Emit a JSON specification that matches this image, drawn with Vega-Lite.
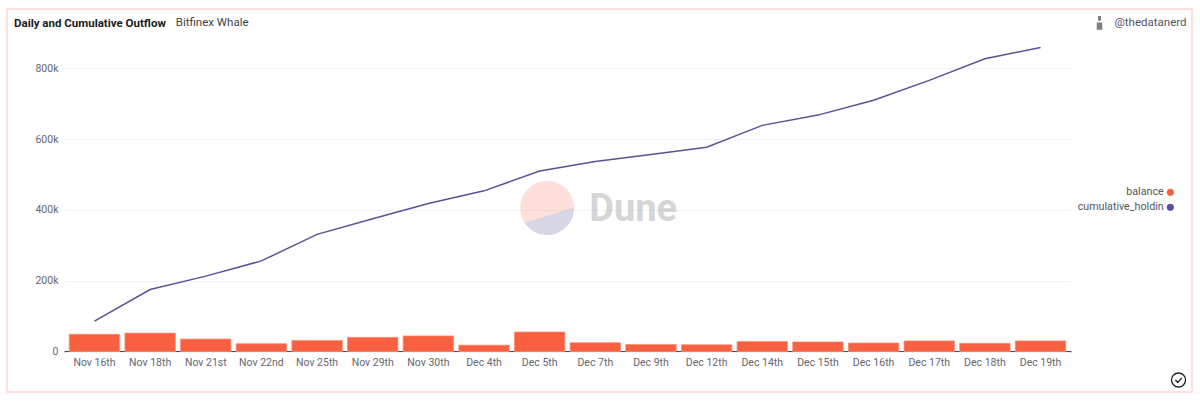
{
"$schema":"https://vega.github.io/schema/vega-lite/v6.json",
"width":1185,"height":383,
"autosize":"none",
"padding":{"left":7,"top":9,"right":8,"bottom":10},
"background":"white",
"view":{"stroke":"#fdd6d0","strokeWidth":1.5,"fill":"white"},
"config":{"font":"Roboto",
 "axisX":{"title":null,"offset":-40.5,"bandPosition":0.5,"labelAngle":0,"labelOverlap":false,"labelFontSize":10.5,"labelColor":"#666670","labelFont":"Roboto","labelPadding":6,"ticks":false,"domain":true,"domainColor":"#4a4a4a","domainWidth":2,"grid":false,"zindex":1},
 "axisY":{"title":null,"offset":-57,"labelFontSize":10.5,"labelColor":"#666670","labelFont":"Roboto","labelPadding":1013,"domain":false,"grid":false,"ticks":true,"tickSize":-1007,"tickColor":"#f3f3f3","tickWidth":1}
},
"title":{"text":"Daily and Cumulative Outflow","anchor":"start","frame":"group","fontSize":11.5,"fontWeight":"bold","font":"Roboto","color":"#1a1a1a","dx":7,"dy":20,"offset":0},
"datasets":{
"main":[
{"date":"Nov 16th","balance":48600,"cumulative_holdin":86000},
{"date":"Nov 18th","balance":52000,"cumulative_holdin":175000},
{"date":"Nov 21st","balance":35000,"cumulative_holdin":213000},
{"date":"Nov 22nd","balance":22000,"cumulative_holdin":256000},
{"date":"Nov 25th","balance":31000,"cumulative_holdin":331000},
{"date":"Nov 29th","balance":40000,"cumulative_holdin":375000},
{"date":"Nov 30th","balance":44000,"cumulative_holdin":418000},
{"date":"Dec 4th","balance":18000,"cumulative_holdin":454000},
{"date":"Dec 5th","balance":55000,"cumulative_holdin":510000},
{"date":"Dec 7th","balance":25000,"cumulative_holdin":537000},
{"date":"Dec 9th","balance":20000,"cumulative_holdin":557000},
{"date":"Dec 12th","balance":19000,"cumulative_holdin":577000},
{"date":"Dec 14th","balance":28000,"cumulative_holdin":639000},
{"date":"Dec 15th","balance":27000,"cumulative_holdin":668000},
{"date":"Dec 16th","balance":24000,"cumulative_holdin":710000},
{"date":"Dec 17th","balance":30000,"cumulative_holdin":766000},
{"date":"Dec 18th","balance":23000,"cumulative_holdin":827000},
{"date":"Dec 19th","balance":30000,"cumulative_holdin":859000}
]},
"data":{"name":"main"},
"layer":[
{"data":{"values":[{"k":"logo"}]},"mark":{"type":"point","filled":true,"size":2916,"xOffset":7.5,"opacity":0.2,"shape":"M-0.83,0.55 A1,1 0 1 1 1,-0.03 Z","color":"#f8603f"},
 "encoding":{"x":{"datum":"Dec 5th","type":"nominal"},"y":{"datum":405000,"type":"quantitative"}}},
{"data":{"values":[{"k":"logo"}]},"mark":{"type":"point","filled":true,"size":2916,"xOffset":7.5,"opacity":0.25,"shape":"M-0.83,0.55 A1,1 0 0 0 1,-0.03 Z","color":"#5a5a9e"},
 "encoding":{"x":{"datum":"Dec 5th","type":"nominal"},"y":{"datum":405000,"type":"quantitative"}}},
{"data":{"values":[{"label":"Dune"}]},"mark":{"type":"text","align":"left","baseline":"middle","fontSize":38,"fontWeight":"bold","font":"Roboto","color":"#8c8c8c","opacity":0.35,"dx":-6,"dy":2},
 "encoding":{"x":{"datum":"Dec 7th","type":"nominal"},"y":{"datum":405000,"type":"quantitative"},"text":{"field":"label"}}},
{"mark":{"type":"bar","color":"#f8603f","stroke":"#fb8f78","strokeWidth":1,"strokeOpacity":0.8},
 "encoding":{
  "x":{"field":"date","type":"nominal","sort":null,
   "scale":{"domain":["Nov 16th","Nov 18th","Nov 21st","Nov 22nd","Nov 25th","Nov 29th","Nov 30th","Dec 4th","Dec 5th","Dec 7th","Dec 9th","Dec 12th","Dec 14th","Dec 15th","Dec 16th","Dec 17th","Dec 18th","Dec 19th"],"range":[57,1064],"paddingInner":0.094,"paddingOuter":0.0945}},
  "y":{"field":"balance","type":"quantitative",
   "scale":{"domain":[0,900000],"range":[342.5,24],"nice":false,"zero":true},
   "axis":{"values":[0,200000,400000,600000,800000],"labelExpr":"datum.value==0?'0':(datum.value/1000)+'k'"}},
  "color":{"datum":"balance","type":"nominal",
   "scale":{"domain":["balance","cumulative_holdin"],"range":["#f8603f","#5a5199"]},
   "legend":{"title":null,"orient":"none","legendX":1158,"legendY":178,"symbolType":"circle","symbolSize":50,"symbolStrokeWidth":0,"labelAlign":"right","labelOffset":-12,"labelFontSize":10.7,"labelColor":"#55555f","labelFont":"Roboto","rowPadding":3,"symbolOpacity":1}}
 }},
{"mark":{"type":"line","strokeWidth":1.5},
 "encoding":{
  "x":{"field":"date","type":"nominal","sort":null},
  "y":{"field":"cumulative_holdin","type":"quantitative"},
  "color":{"datum":"cumulative_holdin","type":"nominal","legend":null}
 }},
{"data":{"values":[{"label":"Bitfinex Whale"}]},"mark":{"type":"text","align":"left","baseline":"middle","fontSize":11.5,"font":"Roboto","color":"#3f3f46","dx":-30},
 "encoding":{"x":{"datum":"Nov 21st","type":"nominal"},"y":{"datum":928000,"type":"quantitative"},"text":{"field":"label"}}},
{"data":{"values":[{"label":"@thedatanerd"}]},"mark":{"type":"text","align":"left","baseline":"middle","fontSize":11.5,"font":"Roboto","color":"#55555f","dx":74},
 "encoding":{"x":{"datum":"Dec 19th","type":"nominal"},"y":{"datum":928000,"type":"quantitative"},"text":{"field":"label"}}},
{"data":{"values":[{"k":"avatar"}]},"mark":{"type":"point","filled":true,"size":196,"xOffset":59,"color":"#4a4a4a","shape":"M-0.22,-1 H0.22 V-0.5 A0.2,0.2 0 0 1 -0.22,-0.5 Z M-0.4,-0.1 H0.4 V0.95 H-0.4 Z"},
 "encoding":{"x":{"datum":"Dec 19th","type":"nominal"},"y":{"datum":928000,"type":"quantitative"}}},
{"data":{"values":[{"k":"check"}]},"mark":{"type":"point","filled":false,"size":196,"xOffset":138,"color":"#222222","strokeWidth":1.3,"opacity":1,"shape":"M1,0 A1,1 0 1 1 -1,0 A1,1 0 1 1 1,0 Z M-0.45,0 L-0.1,0.35 L0.45,-0.3"},
 "encoding":{"x":{"datum":"Dec 19th","type":"nominal"},"y":{"datum":-80600,"type":"quantitative"}}}
]
}
